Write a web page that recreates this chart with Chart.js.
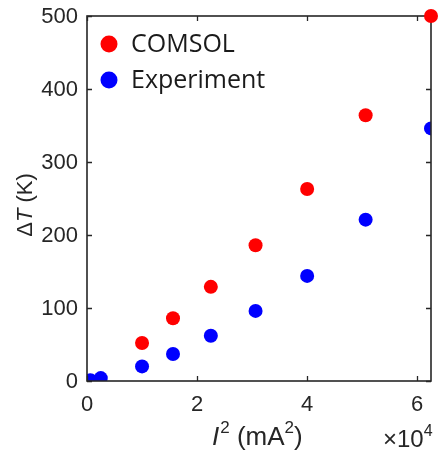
<!DOCTYPE html>
<html>
<head>
<meta charset="utf-8">
<script src="https://cdn.jsdelivr.net/npm/chart.js@4/dist/chart.umd.min.js"></script>
<style>
html,body{margin:0;padding:0;background:#fff;}
canvas{display:block;}
</style>
</head>
<body>
<canvas id="c" width="438" height="459"></canvas>
<script>
// Data (I^2 in mA^2, ΔT in K)
const comsolX = [10000, 15625, 22500, 30625, 40000, 50625, 62500];
const comsolY = [52, 86, 129, 186, 263, 364, 500];
const exprX = [625, 2500, 10000, 15625, 22500, 30625, 40000, 50625, 62500];
const exprY = [1, 4, 20, 37, 62, 96, 144, 221, 346];
const xTicks = [0, 20000, 40000, 60000];
const xTickLabels = ['0', '2', '4', '6'];
const yTicks = [0, 100, 200, 300, 400, 500];
const yTickLabels = ['0', '100', '200', '300', '400', '500'];
const seriesNames = ['COMSOL', 'Experiment'];

const AX = '#262626';
const TICKFONT = '"Liberation Sans", Arial, sans-serif';

const toPts = (xs, ys) => xs.map((x, i) => ({x: x, y: ys[i]}));

const framePlugin = {
  id: 'frame',
  afterDatasetDraw(chart, args) {
    if (args.index !== 1) return;
    const {ctx, chartArea: a, scales: {x, y}} = chart;
    ctx.save();
    ctx.strokeStyle = AX;
    ctx.lineWidth = 1.6;
    ctx.strokeRect(a.left, a.top, a.right - a.left, a.bottom - a.top);
    ctx.lineWidth = 1.3;
    ctx.beginPath();
    const tl = 5;
    xTicks.forEach(v => {
      const px = Math.round(x.getPixelForValue(v)) + 0.5;
      ctx.moveTo(px, a.bottom); ctx.lineTo(px, a.bottom - tl);
      ctx.moveTo(px, a.top); ctx.lineTo(px, a.top + tl);
    });
    yTicks.forEach(v => {
      const py = Math.round(y.getPixelForValue(v)) + 0.5;
      ctx.moveTo(a.left, py); ctx.lineTo(a.left + tl, py);
      ctx.moveTo(a.right, py); ctx.lineTo(a.right - tl, py);
    });
    ctx.stroke();
    ctx.restore();
  },
  afterDraw(chart) {
    const {ctx, chartArea: a, scales: {x, y}} = chart;
    ctx.save();
    ctx.fillStyle = AX;
    // tick labels
    ctx.font = '22px ' + TICKFONT;
    ctx.textAlign = 'right';
    ctx.textBaseline = 'middle';
    yTicks.forEach((v, i) => ctx.fillText(yTickLabels[i], a.left - 9, y.getPixelForValue(v) + 1));
    ctx.textAlign = 'center';
    ctx.textBaseline = 'alphabetic';
    xTicks.forEach((v, i) => ctx.fillText(xTickLabels[i], x.getPixelForValue(v), a.bottom + 30));
    // legend
    const legend = [['#ff0000', seriesNames[0], 44], ['#0000ff', seriesNames[1], 80]];
    legend.forEach(([col, txt, cy]) => {
      ctx.fillStyle = col;
      ctx.beginPath(); ctx.arc(109, cy, 8.5, 0, Math.PI * 2); ctx.fill();
      ctx.fillStyle = '#1a1a1a';
      ctx.font = '25px "Open Sans", sans-serif';
      ctx.textBaseline = 'middle';
      ctx.textAlign = 'left';
      ctx.fillText(txt, 131, cy + 1);
    });
    ctx.fillStyle = AX;
    ctx.textBaseline = 'alphabetic';
    ctx.textAlign = 'left';
    let xp = 212, base = 445;
    const seg = (t, font, dy) => { ctx.font = font; ctx.fillText(t, xp, base + (dy || 0)); xp += ctx.measureText(t).width; };
    // x title: I^2 (mA^2)
    seg('I', 'italic 26px ' + TICKFONT);
    xp += 1;
    seg('2', '17px ' + TICKFONT, -12);
    seg(' (mA', '26px ' + TICKFONT);
    seg('2', '17px ' + TICKFONT, -12);
    seg(')', '26px ' + TICKFONT);
    // multiplier ×10^4
    xp = 383; base = 447;
    seg('\u00d710', '24px ' + TICKFONT);
    seg('4', '16px ' + TICKFONT, -11);
    // y title: ΔT (K)
    ctx.translate(32, 205);
    ctx.rotate(-Math.PI / 2);
    const F = '22px ' + TICKFONT, FI = 'italic 22px ' + TICKFONT;
    const p1 = '\u0394', p3 = ' (K)';
    ctx.font = FI;
    const wT = ctx.measureText('T').width;
    ctx.font = F;
    const w1 = ctx.measureText(p1).width, w3 = ctx.measureText(p3).width;
    let sx = -(w1 + wT + w3) / 2;
    ctx.fillText(p1, sx, 0); sx += w1;
    ctx.font = FI;
    ctx.fillText('T', sx, 0); sx += wT;
    ctx.font = F;
    ctx.fillText(p3, sx, 0);
    ctx.restore();
  }
};

new Chart(document.getElementById('c'), {
  type: 'scatter',
  data: {
    datasets: [
      {label: seriesNames[0], data: toPts(comsolX, comsolY), backgroundColor: '#ff0000', borderWidth: 0, pointRadius: 7, pointHoverRadius: 7, clip: false},
      {label: seriesNames[1], data: toPts(exprX, exprY), backgroundColor: '#0000ff', borderWidth: 0, pointRadius: 7, pointHoverRadius: 7, clip: 0}
    ]
  },
  options: {
    responsive: false,
    animation: false,
    events: [],
    layout: {padding: {top: 16, right: 5, left: 0, bottom: 0}},
    plugins: {legend: {display: false}, tooltip: {enabled: false}},
    scales: {
      x: {
        type: 'linear', min: 0, max: 62500,
        afterBuildTicks: s => { s.ticks = xTicks.map(v => ({value: v})); },
        afterFit: s => { s.height = 78; },
        grid: {display: false, drawTicks: false},
        border: {display: false},
        ticks: {display: false}
      },
      y: {
        type: 'linear', min: 0, max: 500,
        afterBuildTicks: s => { s.ticks = yTicks.map(v => ({value: v})); },
        afterFit: s => { s.width = 87; },
        grid: {display: false, drawTicks: false},
        border: {display: false},
        ticks: {display: false}
      }
    }
  },
  plugins: [framePlugin]
});
</script>
</body>
</html>
